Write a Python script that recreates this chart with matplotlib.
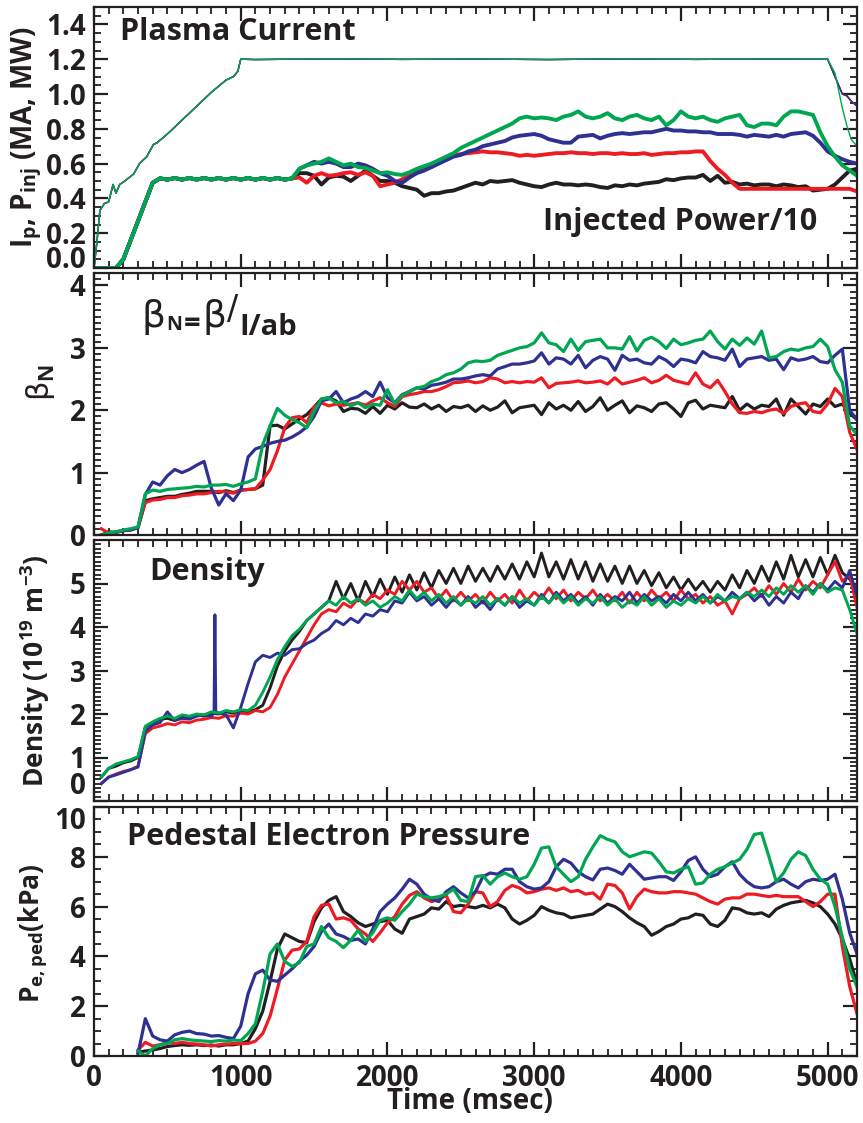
import numpy as np
import matplotlib
matplotlib.use("Agg")
import matplotlib.pyplot as plt
from matplotlib.ticker import MultipleLocator

plt.rcParams["font.family"] = ["Open Sans", "DejaVu Sans"]
plt.rcParams["font.weight"] = "bold"
plt.rcParams["mathtext.fontset"] = "custom"
plt.rcParams["mathtext.rm"] = "Open Sans:bold"
plt.rcParams["mathtext.bf"] = "Open Sans:bold"

INK = "#231f20"
COLORS = {"black": "#231f20", "red": "#ed1c24", "blue": "#2e3192", "green": "#00a651"}
ORDER = ["black", "red", "blue", "green"]

# ---------------- plasma current (MA) ----------------
ip_t = [0, 20, 40, 70, 100, 130, 150, 175, 210, 270, 310, 360, 405, 430, 500, 600,
        700, 800, 900, 950, 980, 1000, 1100, 1600, 2100, 2600, 3100, 3600, 4100,
        4600, 4950, 5000, 5050, 5100, 5130, 5160, 5200]
ip_main = [0, 0.15, 0.33, 0.37, 0.38, 0.48, 0.43, 0.48, 0.50, 0.54, 0.60, 0.64, 0.71,
           0.72, 0.77, 0.85, 0.93, 1.01, 1.08, 1.10, 1.13, 1.20, 1.198, 1.202, 1.199,
           1.201, 1.198, 1.202, 1.199, 1.201, 1.20, 1.20, 1.10, 1.00, 0.99, 0.96, 0.93]
ip_green = [0, 0.15, 0.33, 0.37, 0.38, 0.48, 0.43, 0.48, 0.50, 0.54, 0.60, 0.64, 0.71,
            0.72, 0.77, 0.85, 0.93, 1.01, 1.08, 1.10, 1.13, 1.20, 1.198, 1.202, 1.199,
            1.201, 1.198, 1.202, 1.199, 1.201, 1.20, 1.20, 1.12, 0.92, 0.82, 0.74, 0.70]

# ---------------- injected power / 10 ----------------
pinj_ramp = [0, 0, 0, 0, 0.05, 0.16, 0.27, 0.38, 0.49, 0.515,
             0.508, 0.517, 0.508, 0.517, 0.508, 0.517, 0.508, 0.517, 0.508, 0.517,
             0.508, 0.517, 0.508, 0.517, 0.508, 0.517, 0.508, 0.515]  # 0..1350 ms
pinj = {
    "green": [0.57, 0.59, 0.60, 0.61, 0.63, 0.61, 0.59, 0.60, 0.58, 0.575,
              0.56, 0.545, 0.55, 0.54, 0.535, 0.55, 0.57, 0.585, 0.60, 0.62,
              0.64, 0.66, 0.69, 0.71, 0.73, 0.75, 0.77, 0.79, 0.81, 0.83,
              0.86, 0.87, 0.86, 0.865, 0.86, 0.85, 0.87, 0.88, 0.90, 0.87,
              0.86, 0.87, 0.89, 0.86, 0.85, 0.87, 0.88, 0.86, 0.85, 0.87,
              0.82, 0.85, 0.90, 0.87, 0.86, 0.87, 0.85, 0.84, 0.86, 0.87,
              0.88, 0.82, 0.81, 0.83, 0.83, 0.82, 0.87, 0.90, 0.90, 0.89,
              0.88, 0.78, 0.70, 0.64, 0.59, 0.56, 0.53],
    "blue": [0.57, 0.59, 0.61, 0.60, 0.61, 0.60, 0.58, 0.58, 0.60, 0.59,
             0.57, 0.545, 0.53, 0.50, 0.49, 0.52, 0.545, 0.56, 0.58, 0.60,
             0.62, 0.64, 0.65, 0.67, 0.68, 0.70, 0.71, 0.72, 0.73, 0.75,
             0.76, 0.765, 0.77, 0.76, 0.74, 0.73, 0.72, 0.72, 0.755, 0.76,
             0.765, 0.745, 0.76, 0.77, 0.775, 0.77, 0.775, 0.78, 0.78, 0.79,
             0.80, 0.79, 0.79, 0.785, 0.785, 0.78, 0.78, 0.77, 0.77, 0.77,
             0.765, 0.755, 0.765, 0.76, 0.755, 0.765, 0.755, 0.77, 0.775, 0.78,
             0.76, 0.72, 0.67, 0.645, 0.625, 0.61, 0.60],
    "red": [0.52, 0.49, 0.53, 0.545, 0.53, 0.535, 0.545, 0.55, 0.535, 0.55,
            0.53, 0.47, 0.48, 0.49, 0.51, 0.53, 0.55, 0.57, 0.58, 0.61,
            0.63, 0.645, 0.655, 0.66, 0.665, 0.67, 0.665, 0.665, 0.66, 0.655,
            0.645, 0.65, 0.645, 0.65, 0.655, 0.66, 0.66, 0.665, 0.66, 0.66,
            0.655, 0.66, 0.66, 0.655, 0.66, 0.655, 0.655, 0.66, 0.65, 0.655,
            0.66, 0.66, 0.665, 0.665, 0.67, 0.67, 0.615, 0.57, 0.535, 0.49,
            0.455, 0.455, 0.455, 0.455, 0.455, 0.455, 0.455, 0.455, 0.455, 0.455,
            0.455, 0.455, 0.455, 0.455, 0.455, 0.455, 0.44],
    "black": [0.545, 0.545, 0.53, 0.48, 0.52, 0.53, 0.525, 0.50, 0.53, 0.56,
              0.53, 0.50, 0.50, 0.49, 0.47, 0.46, 0.45, 0.415, 0.43, 0.43,
              0.44, 0.445, 0.46, 0.475, 0.49, 0.48, 0.50, 0.495, 0.50, 0.505,
              0.49, 0.48, 0.47, 0.465, 0.48, 0.49, 0.48, 0.48, 0.475, 0.48,
              0.475, 0.465, 0.46, 0.475, 0.47, 0.48, 0.475, 0.485, 0.49, 0.495,
              0.51, 0.505, 0.515, 0.52, 0.52, 0.535, 0.50, 0.53, 0.49, 0.495,
              0.48, 0.485, 0.475, 0.48, 0.48, 0.47, 0.48, 0.475, 0.465, 0.47,
              0.445, 0.45, 0.455, 0.48, 0.52, 0.56, 0.57],
}

# ---------------- normalised beta, 50..5200 ms ----------------
beta = {
    "black": [0.00, 0.05, 0.04, 0.07, 0.09, 0.12, 0.55, 0.58, 0.60, 0.62,
              0.62, 0.65, 0.67, 0.70, 0.70, 0.70, 0.68, 0.71, 0.68, 0.72,
              0.73, 0.74, 0.80, 1.75, 1.76, 1.70, 1.78, 1.86, 1.93, 2.05,
              2.18, 2.20, 2.15, 1.98, 2.03, 2.02, 1.95, 2.06, 1.95, 2.08,
              2.02, 2.12, 2.05, 2.04, 2.10, 2.02, 2.08, 1.98, 2.06, 2.04,
              2.08, 1.98, 2.07, 2.00, 2.05, 2.15, 1.96, 2.04, 2.06, 2.08,
              1.93, 2.12, 2.02, 2.08, 2.00, 2.14, 1.98, 2.06, 2.20, 2.00,
              2.08, 2.15, 1.96, 2.07, 2.04, 1.98, 2.10, 2.12, 2.02, 1.90,
              2.12, 2.16, 2.02, 2.08, 2.06, 2.04, 2.22, 2.00, 2.10, 2.02,
              2.08, 2.06, 2.18, 1.92, 2.18, 2.06, 1.94, 2.10, 2.06, 2.18,
              2.06, 2.10, 1.95, 1.85],
    "red": [0.10, 0.03, 0.05, 0.07, 0.08, 0.12, 0.52, 0.56, 0.57, 0.60,
            0.60, 0.63, 0.64, 0.66, 0.66, 0.68, 0.70, 0.69, 0.67, 0.72,
            0.73, 0.74, 0.88, 1.05, 1.35, 1.72, 1.88, 1.90, 1.80, 2.05,
            2.12, 2.07, 2.10, 2.08, 2.10, 2.12, 2.08, 2.15, 2.20, 2.12,
            2.06, 2.22, 2.25, 2.27, 2.30, 2.30, 2.33, 2.38, 2.44, 2.45,
            2.47, 2.44, 2.46, 2.52, 2.50, 2.44, 2.46, 2.44, 2.46, 2.45,
            2.52, 2.36, 2.43, 2.44, 2.45, 2.47, 2.44, 2.45, 2.47, 2.42,
            2.52, 2.42, 2.45, 2.48, 2.52, 2.44, 2.48, 2.56, 2.48, 2.45,
            2.42, 2.60, 2.42, 2.36, 2.48, 2.30, 2.10, 1.96, 1.95, 1.98,
            1.96, 2.00, 2.02, 1.95, 2.06, 2.10, 2.12, 1.98, 1.96, 2.10,
            2.35, 2.22, 1.65, 1.37],
    "blue": [0.00, 0.02, 0.05, 0.07, 0.08, 0.12, 0.65, 0.85, 0.80, 0.95,
             1.05, 1.00, 1.05, 1.12, 1.18, 0.75, 0.48, 0.66, 0.55, 0.72,
             1.25, 1.38, 1.42, 1.47, 1.50, 1.52, 1.57, 1.64, 1.73, 1.90,
             2.15, 2.18, 2.30, 2.12, 2.18, 2.22, 2.30, 2.22, 2.45, 2.20,
             2.12, 2.25, 2.30, 2.36, 2.34, 2.40, 2.42, 2.45, 2.50, 2.50,
             2.52, 2.55, 2.57, 2.55, 2.66, 2.70, 2.74, 2.74, 2.76, 2.79,
             2.92, 2.74, 2.84, 2.82, 2.74, 2.88, 2.68, 2.80, 2.86, 2.82,
             2.64, 2.88, 2.80, 2.82, 2.76, 2.74, 2.86, 2.80, 2.70, 2.82,
             2.80, 2.76, 2.94, 2.86, 2.84, 2.80, 2.98, 2.70, 2.82, 2.84,
             2.86, 2.80, 2.82, 2.65, 2.84, 2.80, 2.82, 2.86, 2.78, 2.76,
             2.88, 2.98, 2.00, 1.85],
    "green": [0.00, 0.03, 0.05, 0.08, 0.10, 0.13, 0.66, 0.72, 0.70, 0.73,
              0.74, 0.75, 0.76, 0.78, 0.77, 0.80, 0.80, 0.81, 0.78, 0.82,
              0.85, 0.90, 1.45, 1.75, 2.03, 1.92, 1.85, 1.80, 1.72, 1.98,
              2.18, 2.20, 2.12, 2.14, 2.07, 2.12, 2.04, 2.10, 2.08, 2.33,
              2.10, 2.24, 2.30, 2.36, 2.38, 2.46, 2.50, 2.57, 2.60, 2.66,
              2.76, 2.79, 2.78, 2.80, 2.88, 2.92, 2.96, 3.00, 3.02, 3.08,
              3.24, 3.08, 3.05, 2.94, 3.14, 2.96, 3.10, 3.12, 3.14, 3.00,
              3.00, 2.98, 3.18, 2.95, 3.12, 3.17, 3.10, 2.99, 3.14, 3.05,
              3.08, 3.12, 3.14, 3.27, 3.10, 2.98, 3.14, 3.04, 3.16, 3.06,
              3.27, 2.84, 2.86, 2.94, 2.98, 2.96, 3.00, 3.02, 3.14, 3.02,
              2.65, 2.45, 1.75, 1.61],
}

# ---------------- line-averaged density (1e19 m^-3), 50..5200 ms ----------------
dens = {
    "black": [0.55, 0.75, 0.80, 0.88, 0.92, 1.00, 1.70, 1.80, 1.88, 1.90,
              1.85, 1.95, 1.90, 1.98, 1.95, 2.02, 2.00, 2.05, 2.02, 2.08,
              2.05, 2.10, 2.20, 2.60, 3.10, 3.45, 3.70, 3.90, 4.15, 4.30,
              4.45, 4.60, 5.05, 4.65, 5.00, 4.60, 5.05, 4.70, 5.10, 4.75,
              5.15, 4.80, 5.20, 4.85, 5.25, 4.90, 5.30, 5.00, 5.35, 5.00,
              5.40, 5.05, 5.35, 5.05, 5.40, 5.10, 5.45, 5.10, 5.50, 5.15,
              5.70, 5.15, 5.50, 5.10, 5.55, 5.10, 5.50, 5.05, 5.45, 5.05,
              5.40, 5.00, 5.40, 5.00, 5.30, 4.95, 5.25, 4.90, 5.15, 4.85,
              5.10, 4.85, 5.05, 4.80, 5.05, 4.85, 5.20, 4.90, 5.30, 5.00,
              5.40, 5.05, 5.50, 5.10, 5.65, 5.15, 5.55, 5.15, 5.60, 5.20,
              5.65, 5.25, 5.10, 4.85],
    "red": [0.40, 0.55, 0.62, 0.68, 0.72, 0.80, 1.55, 1.68, 1.72, 1.78,
            1.75, 1.82, 1.80, 1.86, 1.88, 1.92, 1.90, 1.96, 1.95, 2.02,
            2.00, 2.08, 2.05, 2.15, 2.45, 2.85, 3.15, 3.45, 3.75, 4.05,
            4.30, 4.40, 4.35, 4.55, 4.45, 4.65, 4.55, 4.75, 4.65, 4.85,
            4.75, 5.05, 4.85, 5.05, 4.80, 4.90, 4.65, 4.85, 4.60, 4.80,
            4.60, 4.75, 4.55, 4.80, 4.60, 4.75, 4.55, 4.85, 4.60, 4.80,
            4.65, 4.90, 4.65, 4.85, 4.60, 4.80, 4.65, 4.85, 4.60, 4.75,
            4.60, 4.80, 4.55, 4.80, 4.60, 4.85, 4.65, 4.80, 4.60, 4.85,
            4.65, 4.75, 4.55, 4.70, 4.50, 4.60, 4.30, 4.65, 4.75, 4.90,
            4.70, 4.95, 4.75, 5.00, 4.80, 5.10, 4.85, 5.05, 4.90, 5.20,
            5.50, 5.05, 5.20, 4.45],
    "blue": [0.40, 0.55, 0.60, 0.66, 0.72, 0.78, 1.60, 1.75, 1.80, 2.05,
             1.85, 1.90, 1.88, 1.95, 1.98, 1.95, 2.02, 1.98, 1.68, 2.15,
             2.70, 3.20, 3.35, 3.30, 3.40, 3.35, 3.48, 3.50, 3.62, 3.70,
             3.85, 3.95, 4.15, 4.05, 4.20, 4.10, 4.30, 4.25, 4.40, 4.35,
             4.60, 4.55, 4.80, 4.60, 4.70, 4.50, 4.65, 4.45, 4.65, 4.50,
             4.70, 4.45, 4.60, 4.40, 4.65, 4.50, 4.70, 4.45, 4.60, 4.50,
             4.75, 4.55, 4.80, 4.60, 4.75, 4.55, 4.70, 4.50, 4.75, 4.55,
             4.70, 4.60, 4.80, 4.55, 4.75, 4.60, 4.70, 4.55, 4.75, 4.60,
             4.80, 4.60, 4.75, 4.55, 4.70, 4.60, 4.80, 4.65, 4.80, 4.60,
             4.75, 4.50, 4.70, 4.55, 4.80, 4.65, 4.95, 4.80, 5.00, 4.85,
             5.05, 4.90, 5.30, 4.70],
    "green": [0.55, 0.75, 0.85, 0.90, 0.95, 1.02, 1.72, 1.82, 1.90, 1.95,
              1.90, 1.98, 1.95, 2.00, 1.98, 2.05, 2.02, 2.08, 2.05, 2.10,
              2.08, 2.20, 2.50, 2.85, 3.25, 3.55, 3.80, 3.95, 4.15, 4.30,
              4.45, 4.60, 4.50, 4.70, 4.55, 4.65, 4.50, 4.60, 4.45, 4.55,
              4.70, 4.60, 4.85, 4.65, 4.80, 4.60, 4.75, 4.55, 4.70, 4.50,
              4.65, 4.55, 4.70, 4.50, 4.65, 4.50, 4.70, 4.55, 4.65, 4.50,
              4.70, 4.55, 4.75, 4.55, 4.70, 4.50, 4.65, 4.55, 4.70, 4.50,
              4.65, 4.45, 4.60, 4.50, 4.70, 4.50, 4.65, 4.45, 4.60, 4.50,
              4.65, 4.55, 4.70, 4.55, 4.75, 4.60, 4.70, 4.65, 4.80, 4.70,
              4.85, 4.70, 4.90, 4.75, 4.95, 4.80, 4.95, 4.75, 5.00, 4.80,
              4.90, 4.85, 4.40, 3.85],
}
# short spike on the blue density trace
dens_spike_t = [818, 824, 830]
dens_spike_v = [2.02, 4.28, 2.05]

# ---------------- pedestal electron pressure (kPa), 300..5200 ms ----------------
pped = {
    "black": [0.15, 0.20, 0.24, 0.30, 0.38, 0.42, 0.45, 0.43, 0.45, 0.42,
              0.44, 0.40, 0.45, 0.45, 0.50, 0.60, 1.10, 1.80, 3.00, 4.30,
              4.90, 4.75, 4.60, 4.55, 5.40, 5.95, 6.25, 6.40, 5.80, 5.60,
              5.35, 5.20, 5.30, 5.40, 5.45, 5.10, 4.93, 5.50, 5.60, 5.70,
              5.95, 5.90, 6.20, 6.00, 6.05, 6.00, 5.95, 6.05, 5.95, 6.10,
              5.95, 5.50, 5.30, 5.45, 5.65, 6.00, 5.85, 5.75, 5.70, 5.55,
              5.60, 5.65, 5.70, 5.90, 6.10, 6.00, 5.80, 5.55, 5.35, 5.20,
              4.85, 5.00, 5.20, 5.30, 5.50, 5.55, 5.70, 5.65, 5.30, 5.20,
              5.45, 5.95, 5.90, 5.75, 5.70, 5.75, 5.60, 5.90, 6.05, 6.15,
              6.20, 6.25, 6.15, 6.00, 5.70, 5.30, 4.70, 3.90, 2.90],
    "red": [0.24, 0.55, 0.40, 0.45, 0.55, 0.50, 0.55, 0.50, 0.48, 0.45,
            0.40, 0.45, 0.48, 0.50, 0.50, 0.50, 0.60, 0.90, 1.60, 2.70,
            3.85, 4.25, 4.30, 4.60, 5.60, 6.05, 6.10, 5.50, 5.55, 5.45,
            5.10, 4.90, 4.60, 4.95, 5.35, 5.60, 6.10, 6.45, 6.60, 6.35,
            6.20, 6.30, 6.45, 5.80, 5.75, 6.10, 6.60, 6.55, 6.00, 6.20,
            6.65, 6.85, 6.75, 6.55, 6.60, 6.70, 6.75, 6.65, 6.75, 6.60,
            6.65, 6.50, 6.55, 6.30, 6.90, 6.85, 6.55, 5.90, 6.40, 6.70,
            6.60, 6.55, 6.55, 6.60, 6.60, 6.55, 6.50, 6.35, 6.20, 6.10,
            6.30, 6.35, 6.35, 6.50, 6.50, 6.45, 6.40, 6.45, 6.40, 6.40,
            6.40, 6.20, 6.00, 6.20, 6.50, 6.50, 4.40, 2.80, 1.70],
    "blue": [0.10, 1.50, 0.80, 0.65, 0.60, 0.85, 0.95, 1.00, 0.90, 0.88,
             0.80, 0.82, 0.75, 0.70, 1.20, 2.50, 3.30, 3.45, 3.05, 3.00,
             3.25, 3.50, 3.80, 4.05, 4.40, 5.00, 5.30, 4.90, 4.80, 4.64,
             4.70, 4.50, 5.10, 5.80, 6.10, 6.35, 6.70, 7.10, 6.90, 6.50,
             6.30, 6.20, 6.60, 6.80, 6.55, 6.35, 6.60, 7.20, 7.35, 7.30,
             7.50, 7.50, 7.00, 6.80, 6.70, 6.75, 7.00, 7.60, 7.90, 7.75,
             7.40, 7.20, 7.07, 7.50, 7.55, 7.45, 7.30, 7.70, 7.40, 7.10,
             7.15, 7.20, 7.20, 7.05, 7.40, 7.85, 8.00, 7.50, 7.20, 7.30,
             7.60, 7.80, 7.30, 7.00, 6.80, 6.75, 6.80, 7.00, 7.10, 6.90,
             6.75, 7.00, 7.10, 7.05, 7.10, 7.30, 6.30, 4.95, 4.10],
    "green": [0.20, 0.00, 0.30, 0.45, 0.50, 0.65, 0.70, 0.65, 0.62, 0.60,
              0.58, 0.62, 0.60, 0.64, 0.62, 0.90, 1.30, 2.60, 4.10, 4.50,
              3.80, 3.60, 3.75, 4.40, 4.50, 5.20, 4.75, 4.60, 4.35, 4.65,
              5.05, 4.60, 4.95, 5.45, 5.55, 5.45, 5.80, 6.10, 6.50, 6.40,
              6.35, 6.40, 6.50, 6.70, 6.25, 6.20, 7.20, 7.25, 6.90, 7.20,
              7.35, 7.20, 7.10, 7.20, 7.70, 8.35, 8.40, 7.60, 7.30, 7.00,
              7.20, 7.90, 8.40, 8.85, 8.70, 8.60, 8.20, 8.00, 8.10, 8.20,
              8.15, 7.80, 7.40, 7.35, 7.50, 7.60, 6.90, 6.95, 7.30, 7.50,
              7.60, 7.75, 7.90, 8.30, 8.90, 8.95, 8.00, 7.00, 7.35, 7.90,
              8.20, 8.05, 7.50, 7.10, 6.90, 6.00, 4.78, 3.50, 2.77],
}

# sample times
t_pinj_ramp = np.arange(0, 1400, 50)
t_pinj = np.arange(1400, 5201, 50)
t_fast = np.arange(50, 5201, 50)
t_ped = np.arange(300, 5201, 50)

W, H = 863, 1123
fig = plt.figure(figsize=(W / 100, H / 100), dpi=100)


def panel(top_px, bot_px):
    return fig.add_axes([94 / W, 1 - bot_px / H, 763 / W, (bot_px - top_px) / H])


ax1 = panel(7, 268)
ax2 = panel(273, 535)
ax3 = panel(540, 801)
ax4 = panel(807, 1056)

# plasma current (thin) and injected power (thick)
for c in ORDER:
    ax1.plot(ip_t, ip_green if c == "green" else ip_main, color=COLORS[c], lw=1.0)
for c in ORDER:
    t = np.concatenate([t_pinj_ramp, t_pinj])
    v = np.concatenate([pinj_ramp, pinj[c]])
    ax1.plot(t, v, color=COLORS[c], lw=2.8)

for c in ORDER:
    ax2.plot(t_fast, beta[c], color=COLORS[c], lw=2.3)

for c in ORDER:
    t, v = t_fast, np.asarray(dens[c])
    if c == "blue":
        k = np.searchsorted(t, dens_spike_t[0])
        t = np.insert(t, k, dens_spike_t)
        v = np.insert(v, k, dens_spike_v)
    ax3.plot(t, v, color=COLORS[c], lw=2.1)

for c in ORDER:
    ax4.plot(t_ped, pped[c], color=COLORS[c], lw=2.3)

# axes styling
ylims = [(0, 1.5), (0, 4.2), (0, 6), (0, 10)]
ytop = [1.4, 4, 5, 10]
ymaj = [0.2, 1, 1, 2]
ymin = [0.05, 0.1, 0.1, 0.5]
yfmt = ["{:.1f}", "{:.0f}", "{:.0f}", "{:.0f}"]
for ax, lim, top, mj, mn, fmt in zip([ax1, ax2, ax3, ax4], ylims, ytop, ymaj, ymin, yfmt):
    ax.set_xlim(0, 5200)
    ax.set_ylim(*lim)
    ax.xaxis.set_major_locator(MultipleLocator(1000))
    ax.xaxis.set_minor_locator(MultipleLocator(100))
    ax.yaxis.set_minor_locator(MultipleLocator(mn))
    ticks = np.arange(lim[0], top + 1e-9, mj)
    ax.set_yticks(ticks)
    ax.set_yticklabels([fmt.format(v) for v in ticks])
    ax.tick_params(which="both", direction="in", top=True, right=True,
                   colors=INK, labelsize=20, pad=6)
    ax.tick_params(which="major", length=10, width=1.6)
    ax.tick_params(which="minor", length=5, width=1.3)
    for s in ax.spines.values():
        s.set_linewidth(1.6)
        s.set_color(INK)
    if ax is not ax4:
        ax.tick_params(labelbottom=False)
    for lab in ax.get_yticklabels() + ax.get_xticklabels():
        lab.set_fontweight("bold")

# keep the labels at the panel joints apart
ax1.get_yticklabels()[0].set_verticalalignment("baseline")
ax3.get_yticklabels()[0].set_verticalalignment("bottom")
ax4.get_yticklabels()[-1].set_verticalalignment("top")

# titles inside panels
ax1.text(0.034, 0.874, "Plasma Current", transform=ax1.transAxes, fontsize=22,
         fontweight="bold", color=INK, va="baseline")
ax1.text(0.948, 0.146, "Injected Power/10", transform=ax1.transAxes, fontsize=22,
         fontweight="bold", color=INK, ha="right", va="baseline")
ax3.text(0.073, 0.847, "Density", transform=ax3.transAxes, fontsize=22,
         fontweight="bold", color=INK, va="baseline")
ax4.text(0.043, 0.847, "Pedestal Electron Pressure", transform=ax4.transAxes,
         fontsize=22, fontweight="bold", color=INK, va="baseline")

# beta_N definition, set piece by piece
tr = ax2.transAxes
ax2.text(0.062, 0.792, "β", transform=tr, fontsize=27, fontweight="normal",
         family="DejaVu Sans", color=INK, va="baseline")
ax2.text(0.095, 0.782, "N", transform=tr, fontsize=14, fontweight="bold",
         color=INK, va="baseline")
ax2.text(0.118, 0.776, "=", transform=tr, fontsize=21, fontweight="bold",
         color=INK, va="baseline")
ax2.text(0.142, 0.792, "β", transform=tr, fontsize=27, fontweight="normal",
         family="DejaVu Sans", color=INK, va="baseline")
ax2.text(0.174, 0.825, "/", transform=tr, fontsize=24, fontweight="normal",
         family="DejaVu Sans", color=INK, va="baseline")
ax2.text(0.191, 0.763, "I/ab", transform=tr, fontsize=21, fontweight="bold",
         color=INK, va="baseline")

# axis labels
ax1.set_ylabel(r"I$_\mathbf{p}$, P$_\mathbf{inj}$ (MA, MW)", fontsize=20,
               fontweight="bold", color=INK)
ax1.yaxis.set_label_coords(-0.066, 0.5)
ax2.set_ylabel("β$_\\mathbf{N}$", fontsize=22, fontweight="normal", color=INK,
               family=["DejaVu Sans"])
ax2.yaxis.set_label_coords(-0.048, 0.584)
ax3.set_ylabel(r"Density (10$^\mathbf{19}$ m$^\mathbf{-3}$)", fontsize=19,
               fontweight="bold", color=INK)
ax3.yaxis.set_label_coords(-0.055, 0.5)
ax4.set_ylabel(r"P$_\mathbf{e,ped}$(kPa)", fontsize=19, fontweight="bold", color=INK)
ax4.yaxis.set_label_coords(-0.058, 0.494)
ax4.set_xlabel("Time (msec)", fontsize=20, fontweight="bold", color=INK)
ax4.xaxis.set_label_coords(0.493, -0.125)

fig.savefig("out.png", dpi=100)
